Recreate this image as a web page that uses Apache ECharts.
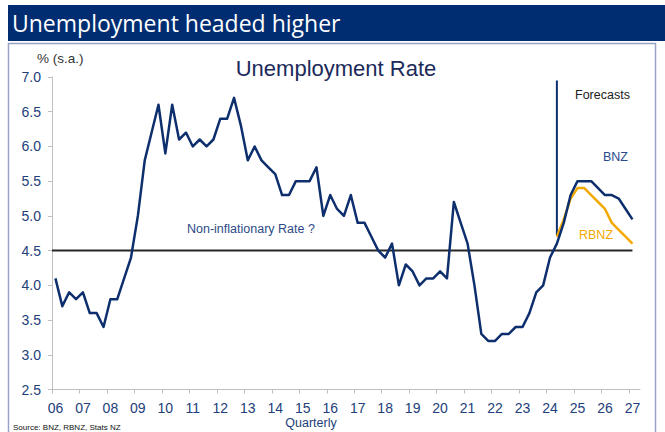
<!DOCTYPE html>
<html>
<head>
<meta charset="utf-8">
<script src="https://cdn.jsdelivr.net/npm/echarts@6/dist/echarts.min.js"></script>
<style>
  html, body { margin: 0; padding: 0; background: #fff; }
  #chart { width: 665px; height: 432px; }
</style>
</head>
<body>
<div id="chart"></div>
<script>
// Quarterly unemployment rate, % s.a., from the March 2006 quarter to the March 2027 quarter
// (actuals to June 2024, BNZ forecast after that)
const firstYear = 2006;
const years = [2006, 2007, 2008, 2009, 2010, 2011, 2012, 2013, 2014, 2015, 2016,
               2017, 2018, 2019, 2020, 2021, 2022, 2023, 2024, 2025, 2026, 2027];
const bnzRate = [
  4.1, 3.7, 3.9, 3.8,   // 2006
  3.9, 3.6, 3.6, 3.4,   // 2007
  3.8, 3.8, 4.1, 4.4,   // 2008
  5.0, 5.8, 6.2, 6.6,   // 2009
  5.9, 6.6, 6.1, 6.2,   // 2010
  6.0, 6.1, 6.0, 6.1,   // 2011
  6.4, 6.4, 6.7, 6.3,   // 2012
  5.8, 6.0, 5.8, 5.7,   // 2013
  5.6, 5.3, 5.3, 5.5,   // 2014
  5.5, 5.5, 5.7, 5.0,   // 2015
  5.3, 5.1, 5.0, 5.3,   // 2016
  4.9, 4.9, 4.7, 4.5,   // 2017
  4.4, 4.6, 4.0, 4.3,   // 2018
  4.2, 4.0, 4.1, 4.1,   // 2019
  4.2, 4.1, 5.2, 4.9,   // 2020
  4.6, 4.0, 3.3, 3.2,   // 2021
  3.2, 3.3, 3.3, 3.4,   // 2022
  3.4, 3.6, 3.9, 4.0,   // 2023
  4.4, 4.6, 4.9, 5.3,   // 2024
  5.5, 5.5, 5.5, 5.4,   // 2025
  5.3, 5.3, 5.25, 5.1,  // 2026
  4.95                  // 2027
];
// RBNZ projection, starting at the June 2024 quarter
const rbnzStartIndex = 73;
const rbnzRate = [4.7, 4.95, 5.25, 5.4, 5.4, 5.3, 5.2, 5.1, 4.9, 4.8, 4.7, 4.6];

const nonInflationaryRate = 4.5;
const forecastLineTop = 6.95;
const forecastLineBottom = 4.72;

// a quarter sits at the middle of its span on a years scale
const quarterX = i => firstYear + 0.125 + 0.25 * i;

const bnzData = bnzRate.map((v, i) => [quarterX(i), v]);
const rbnzData = rbnzRate.map((v, i) => [quarterX(rbnzStartIndex + i), v]);
const lastX = quarterX(bnzRate.length - 1);
const forecastX = quarterX(rbnzStartIndex);

const navy = '#0E2F6E';
const axisText = '#22407A';
const orange = '#F2A900';
const arial = '"Liberation Sans", Arial, sans-serif';

const chart = echarts.init(document.getElementById('chart'), null, { renderer: 'svg' });

chart.setOption({
  animation: false,
  backgroundColor: '#fff',
  grid: { left: 52, right: 25, top: 77, bottom: 42.5 },
  xAxis: {
    type: 'value',
    min: firstYear,
    max: 2027.4,
    splitLine: { show: false },
    axisLine: { lineStyle: { color: '#BFBFBF', width: 1 } },
    axisTick: { show: true, length: 4, lineStyle: { color: '#BFBFBF' }, customValues: years },
    axisLabel: {
      customValues: years.map(y => y + 0.125),
      formatter: v => String(Math.floor(v)).slice(2),
      color: axisText, fontFamily: arial, fontSize: 14, margin: 11
    }
  },
  yAxis: {
    type: 'value',
    min: 2.5,
    max: 7.0,
    interval: 0.5,
    splitLine: { show: false },
    axisLine: { show: true, lineStyle: { color: '#BFBFBF', width: 1 } },
    axisTick: { show: true, length: 4, lineStyle: { color: '#BFBFBF' } },
    axisLabel: {
      formatter: v => v.toFixed(1),
      color: axisText, fontFamily: arial, fontSize: 14, margin: 11
    }
  },
  series: [
    {
      name: 'Non-inflationary rate',
      type: 'line', silent: true, symbol: 'none', z: 2,
      data: [[firstYear, nonInflationaryRate], [lastX, nonInflationaryRate]],
      lineStyle: { color: '#262626', width: 2 }
    },
    {
      name: 'Forecast divider',
      type: 'line', silent: true, symbol: 'none', z: 2,
      data: [[forecastX, forecastLineTop], [forecastX, forecastLineBottom]],
      lineStyle: { color: navy, width: 2 }
    },
    {
      name: 'RBNZ',
      type: 'line', silent: true, symbol: 'none', z: 3,
      data: rbnzData,
      lineStyle: { color: orange, width: 2.5, join: 'round' }
    },
    {
      name: 'BNZ',
      type: 'line', silent: true, symbol: 'none', z: 4,
      data: bnzData,
      lineStyle: { color: navy, width: 2.5, join: 'round' }
    }
  ],
  graphic: [
    { type: 'rect', z: -1, shape: { x: 8, y: 5, width: 657, height: 36 }, style: { fill: '#002D72' } },
    { type: 'text', x: 12, y: 23, style: { text: 'Unemployment headed higher', fill: '#fff',
        font: '23px "Open Sans", sans-serif', verticalAlign: 'middle' } },
    { type: 'rect', z: -1, shape: { x: 8.5, y: 43.5, width: 647, height: 400 },
      style: { fill: 'none', stroke: '#9AA3C7', lineWidth: 1.5 } },
    { type: 'text', x: 37, y: 58, style: { text: '% (s.a.)', fill: '#333', font: '13.5px ' + arial, verticalAlign: 'middle' } },
    { type: 'text', x: 336, y: 68, style: { text: 'Unemployment Rate', fill: '#1B2A5A', font: '22px ' + arial,
        align: 'center', verticalAlign: 'middle' } },
    { type: 'text', x: 187, y: 229, style: { text: 'Non-inflationary Rate ?', fill: '#2E4A88', font: '12.5px ' + arial, verticalAlign: 'middle' } },
    { type: 'text', x: 575, y: 95, style: { text: 'Forecasts', fill: '#222', font: '12.5px ' + arial, verticalAlign: 'middle' } },
    { type: 'text', x: 603, y: 157, style: { text: 'BNZ', fill: '#2A4A8C', font: '12.5px ' + arial, verticalAlign: 'middle' } },
    { type: 'text', x: 579, y: 235, style: { text: 'RBNZ', fill: orange, font: '12.5px ' + arial, verticalAlign: 'middle' } },
    { type: 'text', x: 311, y: 423, style: { text: 'Quarterly', fill: axisText, font: '12.5px ' + arial,
        align: 'center', verticalAlign: 'middle' } },
    { type: 'text', x: 13, y: 427, style: { text: 'Source: BNZ, RBNZ, Stats NZ', fill: '#111', font: '8px ' + arial, verticalAlign: 'middle' } }
  ]
});
</script>
</body>
</html>
